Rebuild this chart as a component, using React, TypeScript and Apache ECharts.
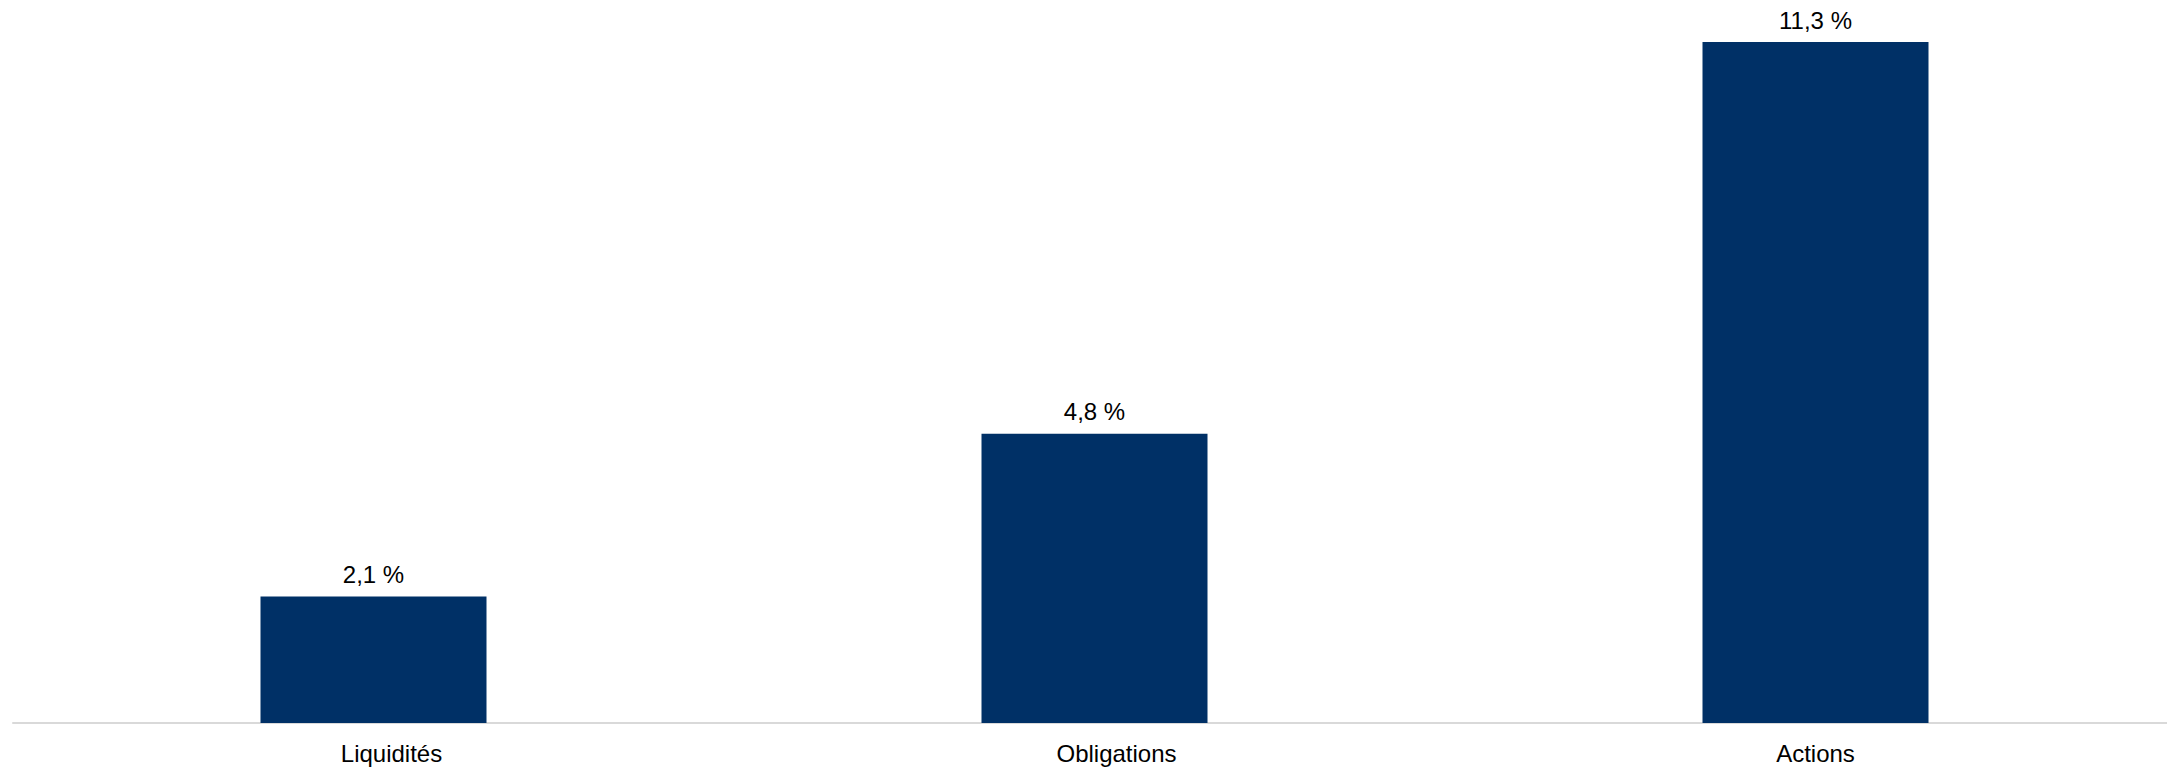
import React, { useEffect, useRef } from "react";
import * as echarts from "echarts";

const categories = ["Liquidités", "Obligations", "Actions"];
const values = [2.1, 4.8, 11.3];
const labelShift = [18, 22, 0];

export default function App() {
  const ref = useRef<HTMLDivElement>(null);
  useEffect(() => {
    document.body.style.margin = "0";
    document.body.style.overflow = "hidden";
    const chart = echarts.init(ref.current!, null, { renderer: "svg" });
    chart.setOption({
      animation: false,
      backgroundColor: "#ffffff",
      grid: { left: 13, right: 0, top: 42, bottom: 46, containLabel: false },
      xAxis: {
        type: "category",
        data: categories,
        axisLine: { show: true, lineStyle: { color: "#d9d9d9", width: 2 } },
        axisTick: { show: false },
        axisLabel: {
          color: "#000000",
          fontFamily: "Liberation Sans, Arial, sans-serif",
          fontSize: 24,
          margin: 18,
          formatter: (v: string, i: number) => `{s${i}|${v}}`,
          rich: Object.fromEntries(
            labelShift.map((s, i) => [
              `s${i}`,
              {
                fontSize: 24,
                fontFamily: "Liberation Sans, Arial, sans-serif",
                color: "#000000",
                padding: [0, 0, 0, s * 2],
              },
            ])
          ),
        },
      },
      yAxis: {
        type: "value",
        min: 0,
        max: 11.3,
        show: false,
        splitLine: { show: false },
      },
      series: [
        {
          type: "bar",
          data: values,
          barWidth: 226,
          itemStyle: { color: "#003066" },
          label: {
            show: true,
            position: "top",
            distance: 10,
            color: "#000000",
            fontFamily: "Liberation Sans, Arial, sans-serif",
            fontSize: 24,
            formatter: (p: any) => p.value.toFixed(1).replace(".", ",") + "\u00a0%",
          },
        },
      ],
    });
    return () => chart.dispose();
  }, []);
  return <div ref={ref} style={{ width: 2176, height: 769 }} />;
}
